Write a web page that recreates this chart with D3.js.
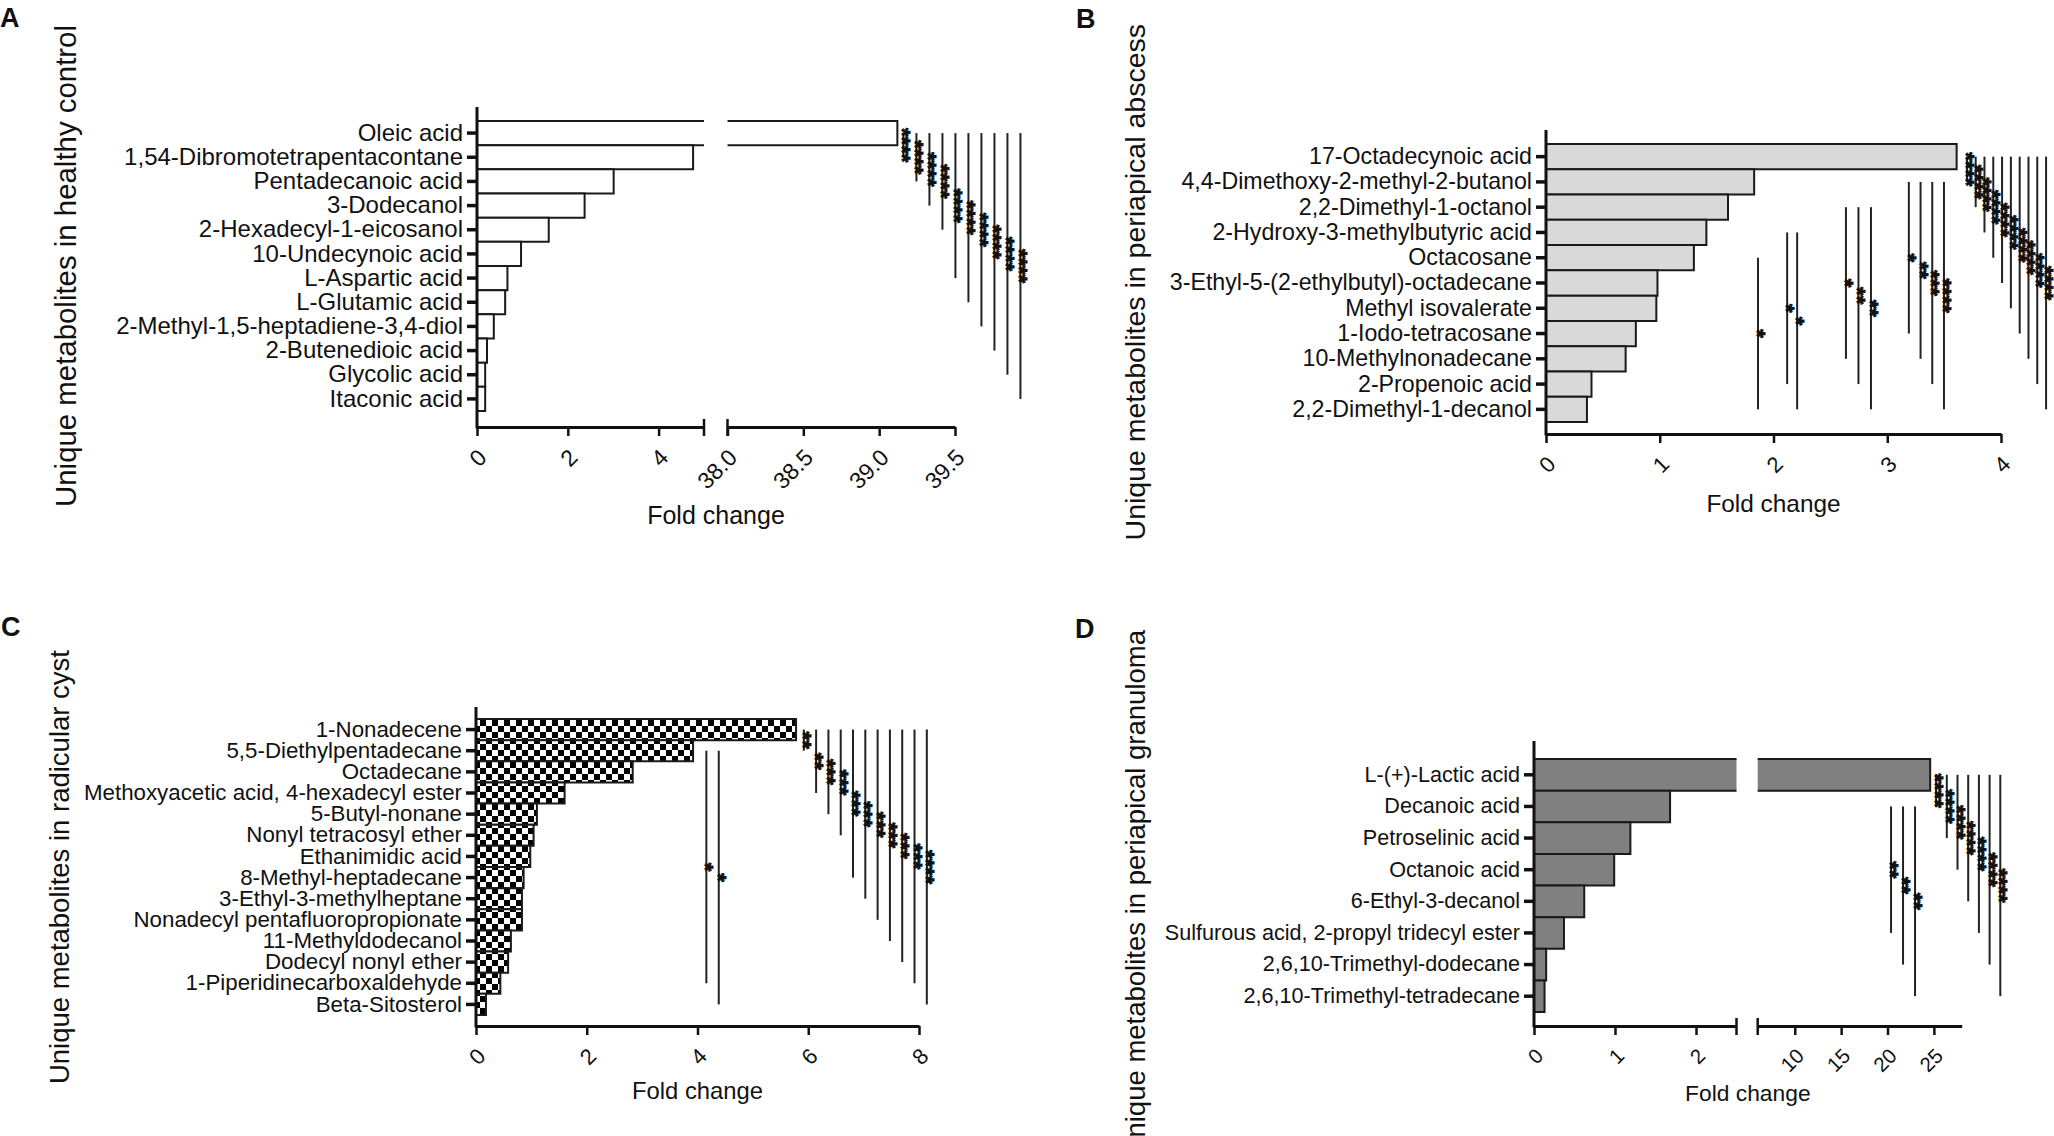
<!DOCTYPE html>
<html>
<head>
<meta charset="utf-8">
<script src="https://cdn.jsdelivr.net/npm/d3@7"></script>
<style>
  body { margin: 0; background: #fff; }
  svg text { font-family: Arial, "Liberation Sans", Helvetica, sans-serif; fill: #111; }
</style>
</head>
<body>
<svg id="chart" width="2054" height="1136"></svg>
<script>
// ---- A: healthy control
var metabolitesA = ["Oleic acid", "1,54-Dibromotetrapentacontane", "Pentadecanoic acid", "3-Dodecanol",
    "2-Hexadecyl-1-eicosanol", "10-Undecynoic acid", "L-Aspartic acid", "L-Glutamic acid",
    "2-Methyl-1,5-heptadiene-3,4-diol", "2-Butenedioic acid", "Glycolic acid", "Itaconic acid"];
var foldA = [39.12, 4.76, 3.01, 2.37, 1.58, 0.97, 0.67, 0.62, 0.37, 0.22, 0.18, 0.18];
// [from row, to row, stars]
var sigA = [[0,1,"****"],[0,2,"****"],[0,3,"****"],[0,4,"****"],[0,6,"****"],
            [0,7,"****"],[0,8,"****"],[0,9,"****"],[0,10,"****"],[0,11,"****"]];
var ticksA1 = [0, 2, 4];
var ticksA2 = [38.0, 38.5, 39.0, 39.5];

// ---- B: periapical abscess
var metabolitesB = ["17-Octadecynoic acid", "4,4-Dimethoxy-2-methyl-2-butanol", "2,2-Dimethyl-1-octanol",
    "2-Hydroxy-3-methylbutyric acid", "Octacosane", "3-Ethyl-5-(2-ethylbutyl)-octadecane",
    "Methyl isovalerate", "1-Iodo-tetracosane", "10-Methylnonadecane", "2-Propenoic acid",
    "2,2-Dimethyl-1-decanol"];
var foldB = [3.61, 1.83, 1.60, 1.41, 1.30, 0.98, 0.97, 0.79, 0.70, 0.40, 0.36];
var sigB = [[4,10,"*"],
            [3,9,"*"],[3,10,"*"],
            [2,8,"*"],[2,9,"**"],[2,10,"**"],
            [1,7,"*"],[1,8,"**"],[1,9,"***"],[1,10,"****"],
            [0,1,"****"],[0,2,"****"],[0,3,"****"],[0,4,"****"],[0,5,"****"],
            [0,6,"****"],[0,7,"****"],[0,8,"****"],[0,9,"****"],[0,10,"****"]];
var ticksB = [0, 1, 2, 3, 4];

// ---- C: radicular cyst
var metabolitesC = ["1-Nonadecene", "5,5-Diethylpentadecane", "Octadecane", "Methoxyacetic acid, 4-hexadecyl ester",
    "5-Butyl-nonane", "Nonyl tetracosyl ether", "Ethanimidic acid", "8-Methyl-heptadecane",
    "3-Ethyl-3-methylheptane", "Nonadecyl pentafluoropropionate", "11-Methyldodecanol",
    "Dodecyl nonyl ether", "1-Piperidinecarboxaldehyde", "Beta-Sitosterol"];
var foldC = [5.78, 3.92, 2.83, 1.60, 1.10, 1.04, 0.98, 0.86, 0.83, 0.83, 0.63, 0.58, 0.44, 0.18];
var sigC = [[1,12,"*"],[1,13,"*"],
            [0,1,"**"],[0,3,"**"],[0,4,"***"],[0,5,"***"],[0,7,"***"],[0,8,"***"],
            [0,9,"***"],[0,10,"***"],[0,11,"***"],[0,12,"***"],[0,13,"****"]];
var ticksC = [0, 2, 4, 6, 8];

// ---- D: periapical granuloma
var metabolitesD = ["L-(+)-Lactic acid", "Decanoic acid", "Petroselinic acid", "Octanoic acid",
    "6-Ethyl-3-decanol", "Sulfurous acid, 2-propyl tridecyl ester", "2,6,10-Trimethyl-dodecane",
    "2,6,10-Trimethyl-tetradecane"];
var foldD = [24.6, 1.68, 1.19, 0.99, 0.62, 0.37, 0.15, 0.13];
var sigD = [[1,5,"**"],[1,6,"**"],[1,7,"**"],
            [0,1,"****"],[0,2,"****"],[0,3,"****"],[0,4,"****"],[0,5,"****"],[0,6,"****"],[0,7,"****"]];
var ticksD1 = [0, 1, 2];
var ticksD2 = [10, 15, 20, 25];

// layout of the four panels (pixels); annotation columns start at an axis value
var panels = [
    {
        letter: "A", letterX: 0, letterY: 27,
        title: "Unique metabolites in healthy control", titleX: 66, titleTop: 25,
        cats: metabolitesA, vals: foldA, sig: sigA, fill: "#ffffff",
        fs: {label: 24, tick: 23, fold: 25, title: 29.4},
        segments: [
            {domain: [0, 5], range: [477, 704], ticks: ticksA1, fmt: d3.format("d")},
            {domain: [38, 39.5], range: [727.5, 955], ticks: ticksA2, fmt: d3.format(".1f")}
        ],
        axisTop: 107, barTop: 121, barBottom: 411, axisY: 427, foldY: 524,
        columns: {0: {seg: 1, start: 39.16, step: 13}}
    },
    {
        letter: "B", letterX: 1076, letterY: 28,
        title: "Unique metabolites in periapical abscess", titleX: 1135, titleTop: 24,
        cats: metabolitesB, vals: foldB, sig: sigB, fill: "#d9d9d9",
        fs: {label: 23.2, tick: 22, fold: 24.4, title: 28.5},
        segments: [
            {domain: [0, 4], range: [1546, 2001], ticks: ticksB, fmt: d3.format("d")}
        ],
        axisTop: 130, barTop: 144, barBottom: 422, axisY: 434, foldY: 512,
        columns: {
            4: {seg: 0, start: 1.864, step: 0},
            3: {seg: 0, start: 2.12, step: 10},
            2: {seg: 0, start: 2.637, step: 12.5},
            1: {seg: 0, start: 3.19, step: 11.7},
            0: {seg: 0, start: 3.70, step: 8.8}
        }
    },
    {
        letter: "C", letterX: 1, letterY: 636,
        title: "Unique metabolites in radicular cyst", titleX: 59, titleTop: 650,
        cats: metabolitesC, vals: foldC, sig: sigC, fill: "url(#checker)",
        fs: {label: 22.3, tick: 22, fold: 23.8, title: 27.5},
        segments: [
            {domain: [0, 8], range: [476, 919], ticks: ticksC, fmt: d3.format("d")}
        ],
        axisTop: 707, barTop: 719, barBottom: 1015, axisY: 1026, foldY: 1099,
        columns: {
            1: {seg: 0, start: 4.16, step: 12.4},
            0: {seg: 0, start: 5.92, step: 12.3}
        }
    },
    {
        letter: "D", letterX: 1075, letterY: 638,
        title: "Unique metabolites in periapical granuloma", titleX: 1135, titleTop: 630,
        cats: metabolitesD, vals: foldD, sig: sigD, fill: "#808080",
        fs: {label: 21.6, tick: 20.5, fold: 22.8, title: 27.5},
        segments: [
            {domain: [0, 2.5], range: [1534, 1736.5], ticks: ticksD1, fmt: d3.format("d")},
            {domain: [6, 28], range: [1757.7, 1961.7], ticks: ticksD2, fmt: d3.format("d")}
        ],
        axisTop: 741, barTop: 759, barBottom: 1012, axisY: 1026, foldY: 1101,
        columns: {
            1: {seg: 1, start: 20.38, step: 12},
            0: {seg: 1, start: 25.24, step: 10.7}
        }
    }
];

var svg = d3.select("#chart");

// checkered fill for panel C
var pat = svg.append("defs").append("pattern")
    .attr("id", "checker")
    .attr("width", 12).attr("height", 12)
    .attr("patternUnits", "userSpaceOnUse");
pat.append("rect").attr("width", 12).attr("height", 12).attr("fill", "#fff");
pat.append("rect").attr("width", 6).attr("height", 6).attr("fill", "#000");
pat.append("rect").attr("x", 6).attr("y", 6).attr("width", 6).attr("height", 6).attr("fill", "#000");

panels.forEach(function(p) {
    var g = svg.append("g");
    var x0 = p.segments[0].range[0];

    var scales = p.segments.map(function(s) {
        return d3.scaleLinear().domain(s.domain).range(s.range);
    });

    var y = d3.scaleBand()
        .domain(p.cats)
        .range([p.barTop, p.barBottom])
        .padding(0);
    var yc = function(i) { return y(p.cats[i]) + y.bandwidth() / 2; };

    // bars, cut at the axis break
    p.segments.forEach(function(s, si) {
        var sc = scales[si];
        var bars = g.append("g");
        p.vals.forEach(function(v, i) {
            if (v <= s.domain[0]) return;
            var xa = sc(s.domain[0]);
            var closed = v <= s.domain[1];
            var xb = sc(Math.min(v, s.domain[1]));
            var yt = y(p.cats[i]), yb = yt + y.bandwidth();
            bars.append("rect")
                .attr("x", xa).attr("y", yt)
                .attr("width", xb - xa).attr("height", y.bandwidth())
                .attr("fill", p.fill);
            var path = closed
                ? "M" + xa + "," + yt + "H" + xb + "V" + yb + "H" + xa
                : "M" + xa + "," + yt + "H" + xb + "M" + xb + "," + yb + "H" + xa;
            bars.append("path")
                .attr("d", path)
                .attr("fill", "none")
                .attr("stroke", "#1a1a1a")
                .attr("stroke-width", 2);
        });
    });

    // y axis
    g.append("line")
        .attr("x1", x0).attr("x2", x0)
        .attr("y1", p.axisTop).attr("y2", p.axisY + 1.5)
        .attr("stroke", "#111").attr("stroke-width", 3);
    var yAxis = g.append("g")
        .attr("transform", "translate(" + x0 + ",0)")
        .call(d3.axisLeft(y).tickSize(10).tickPadding(4).tickSizeOuter(0));
    yAxis.select(".domain").remove();
    yAxis.selectAll(".tick line").attr("stroke", "#111").attr("stroke-width", 3.5);
    yAxis.selectAll(".tick text")
        .style("font-size", p.fs.label + "px")
        .attr("fill", "#111");

    // x axis segments
    p.segments.forEach(function(s, si) {
        var ax = g.append("g")
            .attr("transform", "translate(0," + p.axisY + ")")
            .call(d3.axisBottom(scales[si]).tickValues(s.ticks).tickFormat(s.fmt)
                .tickSize(9).tickSizeOuter(0));
        ax.select(".domain").attr("stroke", "#111").attr("stroke-width", 3);
        ax.selectAll(".tick line").attr("stroke", "#111").attr("stroke-width", 2.5);
        ax.selectAll(".tick text")
            .style("font-size", p.fs.tick + "px")
            .attr("fill", "#111")
            .attr("text-anchor", "end")
            .attr("x", -15)
            .attr("y", 22)
            .attr("dy", "0.35em")
            .attr("transform", "rotate(-45)");
        // break marks at the gap
        if (p.segments.length > 1) {
            var bx = si === 0 ? s.range[1] : s.range[0];
            g.append("line")
                .attr("x1", bx).attr("x2", bx)
                .attr("y1", p.axisY - 8).attr("y2", p.axisY + 9)
                .attr("stroke", "#111").attr("stroke-width", 2.5);
        }
    });

    // significance lines and stars
    var count = {};
    p.sig.forEach(function(c) {
        var col = p.columns[c[0]];
        var k = count[c[0]] || 0;
        count[c[0]] = k + 1;
        var lx = scales[col.seg](col.start) + k * col.step;
        var y1 = yc(c[0]), y2 = yc(c[1]);
        g.append("line")
            .attr("x1", lx).attr("x2", lx)
            .attr("y1", y1).attr("y2", y2)
            .attr("stroke", "#222").attr("stroke-width", 2);
        g.append("text")
            .attr("transform", "translate(" + (lx - 8) + "," + ((y1 + y2) / 2) + ") rotate(90)")
            .attr("text-anchor", "middle")
            .style("font-size", "22px")
            .style("font-weight", "bold")
            .attr("stroke", "#111")
            .attr("stroke-width", 0.9)
            .text(c[2]);
    });

    // axis titles
    var r0 = p.segments[0].range[0];
    var r1 = p.segments[p.segments.length - 1].range[1];
    g.append("text")
        .attr("x", (r0 + r1) / 2)
        .attr("y", p.foldY)
        .attr("text-anchor", "middle")
        .style("font-size", p.fs.fold + "px")
        .text("Fold change");

    g.append("text")
        .attr("transform", "translate(" + p.titleX + "," + p.titleTop + ") rotate(-90)")
        .attr("text-anchor", "end")
        .attr("dy", "0.35em")
        .style("font-size", p.fs.title + "px")
        .text(p.title);

    g.append("text")
        .attr("x", p.letterX).attr("y", p.letterY)
        .style("font-size", "27px")
        .style("font-weight", "bold")
        .text(p.letter);
});
</script>
</body>
</html>
